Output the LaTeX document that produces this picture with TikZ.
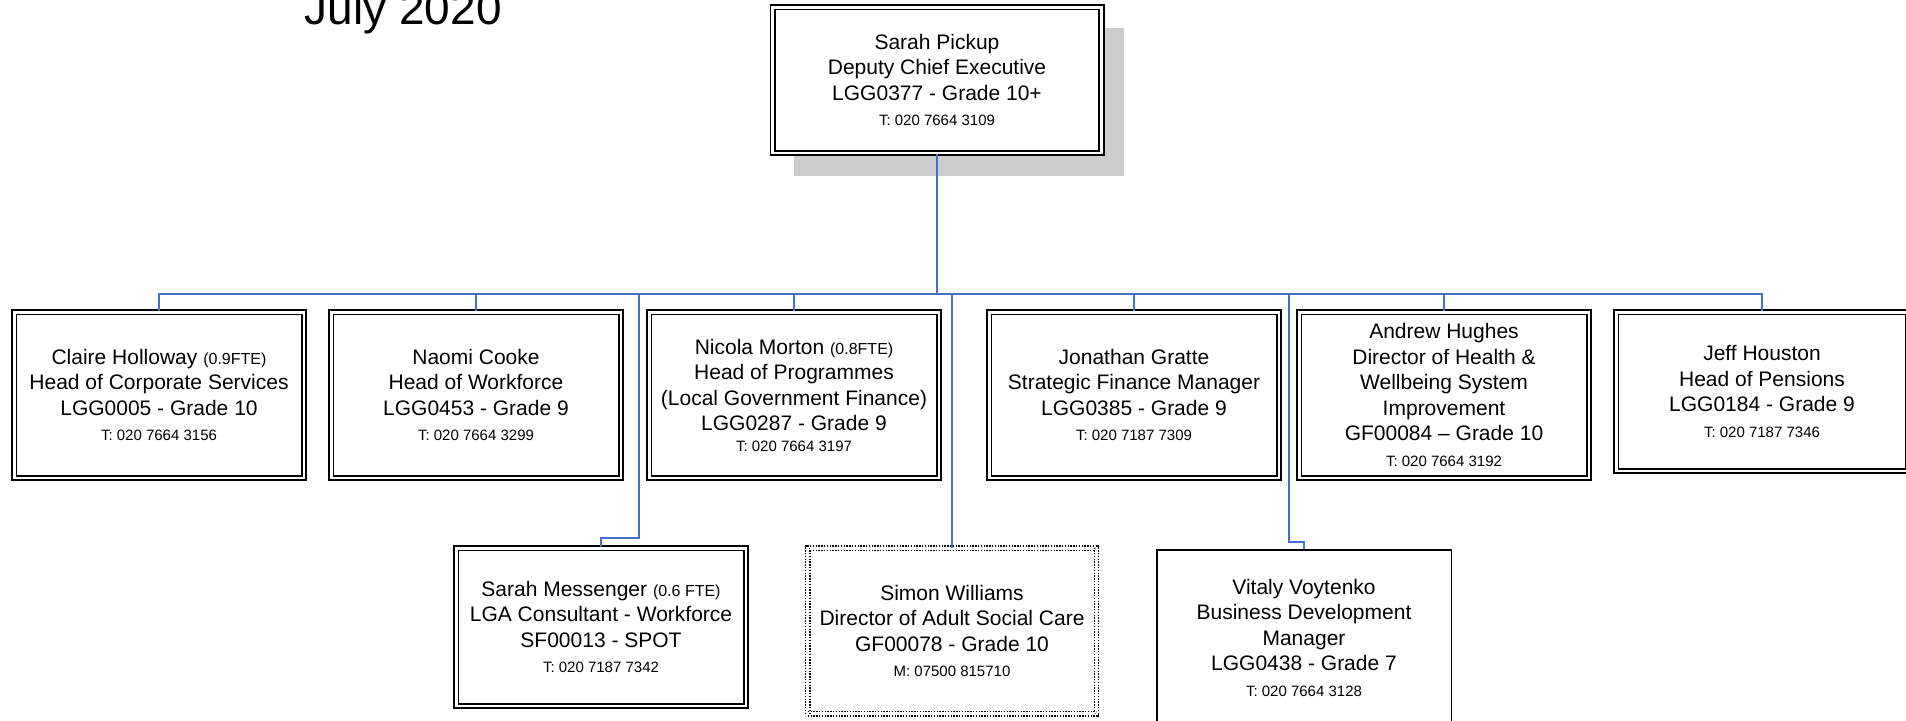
\documentclass[tikz,border=0pt]{standalone}
\usepackage{fontspec}
\setmainfont{Liberation Sans}
\usetikzlibrary{backgrounds}

\definecolor{linkblue}{RGB}{68,114,196}
\definecolor{shadowgray}{RGB}{204,204,204}

\newcommand{\phoneline}[1]{{\fontsize{7.5pt}{12.75pt}\selectfont #1}}
\newcommand{\fte}[1]{{\fontsize{8pt}{12.75pt}\selectfont #1}}

\tikzset{every picture/.style={line width=0.75pt}}
\tikzset{
  staff/.style={draw, fill=white, double, line width=0.95pt, double distance=1.3pt,
    align=center, inner sep=0pt, minimum width=144.8pt, minimum height=82.8pt,
    font=\fontsize{10.5pt}{12.75pt}\selectfont},
  vacant/.style={staff, line width=0.7pt, double distance=1.4pt, dash pattern=on 0.7pt off 0.7pt},
  single/.style={draw, fill=white, line width=0.75pt, align=center, inner sep=0pt,
    font=\fontsize{10.5pt}{12.75pt}\selectfont},
  link/.style={draw=linkblue, line width=0.8pt},
  datetitle/.style={font=\fontsize{23pt}{27pt}\selectfont, inner sep=0pt}
}

\begin{document}
\begin{tikzpicture}[x=0.5pt,y=0.5pt,yscale=-1,xscale=1]
%set diagram size 1906 x 720
\path[use as bounding box, clip] (0,0) rectangle (1906,720);

% Text Node
\node[datetitle, anchor=base west] (date) at (304,24) {July 2020};

%Shape: Rectangle [top]
\node[staff, minimum width=164.3pt, minimum height=72.8pt] (pickup) at (937,80)
  {Sarah Pickup\\Deputy Chief Executive\\LGG0377 - Grade 10+\\\phoneline{T: 020 7664 3109}};

%Shape: Rectangle [second row]
\node[staff] (holloway) at (159,395)
  {Claire Holloway \fte{(0.9FTE)}\\Head of Corporate Services\\LGG0005 - Grade 10\\\phoneline{T: 020 7664 3156}};
\node[staff] (cooke) at (476,395)
  {Naomi Cooke\\Head of Workforce\\LGG0453 - Grade 9\\\phoneline{T: 020 7664 3299}};
\node[staff] (morton) at (794,395)
  {Nicola Morton \fte{(0.8FTE)}\\Head of Programmes\\(Local Government Finance)\\LGG0287 - Grade 9\\[-2.5pt]\phoneline{T: 020 7664 3197}};
\node[staff] (gratte) at (1134,395)
  {Jonathan Gratte\\Strategic Finance Manager\\LGG0385 - Grade 9\\\phoneline{T: 020 7187 7309}};
\node[staff] (hughes) at (1444,395)
  {Andrew Hughes\\Director of Health \&\\Wellbeing System\\Improvement\\GF00084 -- Grade 10\\\phoneline{T: 020 7664 3192}};
\node[staff, minimum width=145.8pt, minimum height=79.3pt] (houston) at (1762,391.5)
  {Jeff Houston\\Head of Pensions\\LGG0184 - Grade 9\\\phoneline{T: 020 7187 7346}};

%Shape: Rectangle [third row]
\node[staff, minimum height=78.8pt] (messenger) at (601,627)
  {Sarah Messenger \fte{(0.6 FTE)}\\LGA Consultant - Workforce\\SF00013 - SPOT\\\phoneline{T: 020 7187 7342}};
\node[vacant, minimum width=144.3pt] (williams) at (952,631)
  {Simon Williams\\Director of Adult Social Care\\GF00078 - Grade 10\\\phoneline{M: 07500 815710}};
\node[single, minimum width=147.25pt, minimum height=88pt] (voytenko) at (1304,637.75)
  {Vitaly Voytenko\\Business Development\\Manager\\LGG0438 - Grade 7\\\phoneline{T: 020 7664 3128}};

% Shadow
\begin{scope}[on background layer]
\fill[shadowgray] ([shift={(22,22)}]pickup.north west) rectangle ([shift={(22,22)}]pickup.south east);
\end{scope}

% Connectors
\coordinate (bus) at (937,294);
\coordinate (mbend) at (639,538);
\coordinate (vbend) at (1289,542);
\draw[link] (pickup.south) -- (bus);
\foreach \n in {holloway,cooke,morton,gratte,hughes,houston,williams}
  \draw[link] (bus) -| (\n.north);
\draw[link] (bus) -| (mbend) -| (messenger.north);
\draw[link] (bus) -| (vbend) -| (voytenko.north);

\end{tikzpicture}
\end{document}
